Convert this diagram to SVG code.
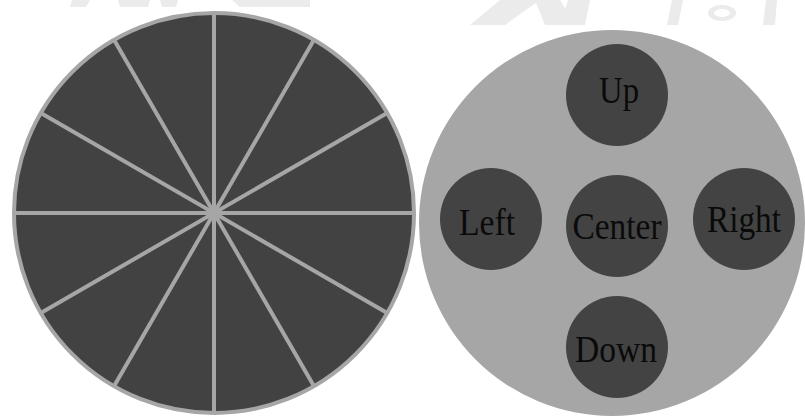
<svg xmlns="http://www.w3.org/2000/svg" width="805" height="420" viewBox="0 0 805 420">
<style>
.wm{fill:#ebebeb;}
.dial{fill:#424242;stroke:#a6a6a6;stroke-width:4;}
.spoke{stroke:#a6a6a6;stroke-width:4;}
.pad{fill:#a6a6a6;}
.btn{fill:#434343;}
.lbl{font-family:"Liberation Serif","Times New Roman",serif;font-size:38px;fill:#0a0a0a;text-anchor:middle;}
</style>
<rect width="805" height="420" fill="#ffffff"/>
<g id="watermark">
<polygon class="wm" points="72,0 90,0 86,7 70,7"/>
<polygon class="wm" points="118,0 150,0 148,7 120,7"/>
<polygon class="wm" points="160,0 178,0 176,7 162,7"/>
<polygon class="wm" points="232,0 310,0 310,7 240,7"/>
<polygon class="wm" points="470,25 505,25 540,0 500,0"/>
<polygon class="wm" points="535,0 560,0 575,25 545,25"/>
<polygon class="wm" points="568,0 590,0 585,25 560,25"/>
<polygon class="wm" points="672,0 683,0 678,25 667,25"/>
<ellipse class="wm" cx="722" cy="13" rx="14" ry="8"/>
<ellipse cx="722" cy="13" rx="8" ry="4" fill="#ffffff"/>
<polygon class="wm" points="766,0 777,0 775,25 763,25"/>
</g>
<g id="dial">
<circle class="dial" cx="214" cy="213" r="200"/>
<g id="spokes">
<line class="spoke" x1="14" y1="213" x2="414" y2="213"/>
<line class="spoke" x1="214" y1="13" x2="214" y2="413"/>
<line class="spoke" x1="40.8" y1="113" x2="387.2" y2="313"/>
<line class="spoke" x1="40.8" y1="313" x2="387.2" y2="113"/>
<line class="spoke" x1="114" y1="39.8" x2="314" y2="386.2"/>
<line class="spoke" x1="114" y1="386.2" x2="314" y2="39.8"/>
</g>
<circle cx="214" cy="213" r="5" fill="#a6a6a6"/>
</g>
<g id="pad">
<circle class="pad" cx="612" cy="223" r="193"/>
</g>
<g id="up">
<circle class="btn" cx="617" cy="95" r="51"/>
<text class="lbl" x="619" y="103" textLength="40" lengthAdjust="spacingAndGlyphs">Up</text>
</g>
<g id="left">
<circle class="btn" cx="491" cy="219" r="51"/>
<text class="lbl" x="487" y="235" textLength="56" lengthAdjust="spacingAndGlyphs">Left</text>
</g>
<g id="center">
<circle class="btn" cx="617" cy="226" r="51"/>
<text class="lbl" x="617" y="239" textLength="89" lengthAdjust="spacingAndGlyphs">Center</text>
</g>
<g id="right">
<circle class="btn" cx="744" cy="219" r="51"/>
<text class="lbl" x="744" y="232" textLength="74" lengthAdjust="spacingAndGlyphs">Right</text>
</g>
<g id="down">
<circle class="btn" cx="617" cy="347" r="51"/>
<text class="lbl" x="616" y="362" textLength="82" lengthAdjust="spacingAndGlyphs">Down</text>
</g>
</svg>
